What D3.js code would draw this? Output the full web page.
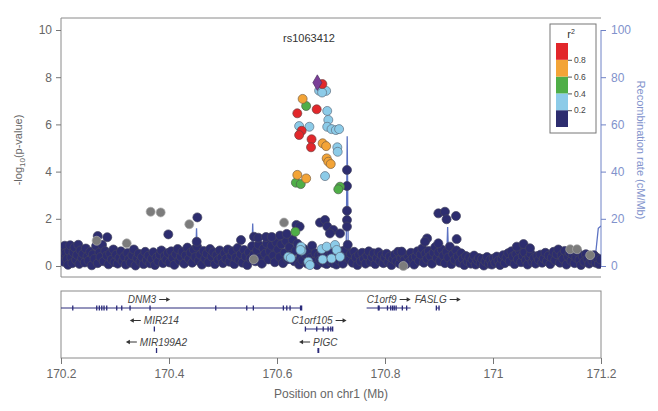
<!DOCTYPE html>
<html>
<head>
<meta charset="utf-8">
<script src="https://cdn.jsdelivr.net/npm/d3@7"></script>
<style>
body { margin: 0; background: #fff; }
svg { font-family: "Liberation Sans", Arial, sans-serif; }
</style>
</head>
<body>
<div id="chart"></div>
<script>
// --- data: [position Mb, -log10 p] ---
var indexSnp = [[170.6747, 7.77]];
var snpRed = [[170.684,7.71],[170.6376,6.47],[170.6735,6.64],[170.6457,5.73],[170.641,5.55],[170.664,5.37],[170.663,5.03]];
var snpOrange = [[170.6475,7.08],[170.6845,5.20],[170.691,5.08],[170.692,4.56],[170.695,4.42],[170.6995,4.32],[170.6376,3.86],[170.654,3.71]];
var snpGreen = [[170.654,6.78],[170.635,3.53],[170.644,3.47],[170.7167,3.36],[170.7135,3.25],[170.634,1.45]];
var snpLightBlue = [[170.678,7.43],[170.691,7.42],[170.6835,7.35],[170.693,6.57],[170.695,6.19],[170.641,5.93],[170.660,5.90],
  [170.693,5.90],[170.701,5.80],[170.709,5.76],[170.715,5.80],[170.7117,5.03],[170.7124,4.84],[170.689,3.81],
  [170.6445,0.82],[170.6457,0.65],[170.6209,0.39],[170.658,0.18],[170.661,0.04],[170.6828,0.72],[170.692,0.82],
  [170.7074,0.89],[170.7105,0.68],[170.6846,0.28],[170.701,0.32],[170.7167,0.39],[170.6255,0.34],[170.6435,0.68]];
var snpGray = [[170.366,2.30],[170.3846,2.27],[170.4376,1.77],[170.613,1.84],[170.266,1.07],[170.3217,0.96],
  [170.557,0.28],[171.143,0.71],[171.1556,0.71],[171.180,0.46],[170.834,0.0]];
var snpNavyHigh = [[170.7296,4.07],[170.7296,3.39],[170.7296,2.34],[170.7296,1.95],[170.7296,1.67],[170.636,1.74],[170.642,1.67],
  [170.4525,2.06],[170.8988,2.23],[170.911,2.30],[170.914,1.98],[170.9315,2.12],[170.878,1.17],[170.874,1.03],[170.8988,0.96],
  [170.9327,1.14],[171.044,0.82],[171.0565,0.93],[171.0685,0.75],[170.8309,0.61],[170.6796,1.84],[170.6889,1.95],[170.6932,1.67],
  [170.7043,1.53],[170.7167,1.38],[170.698,1.38],[170.268,1.27],[170.2857,1.22],[170.3987,1.34],[170.4513,1.03],[170.5333,1.10],
  [170.5574,1.24],[170.5654,1.20],[170.5796,1.23],[170.5902,1.23],[170.6056,1.29],[170.618,1.36]];
var snpNavy = [
  [170.201,0.42],[170.203,0.71],[170.205,0.18],[170.207,0.86],[170.209,0.55],[170.211,0.30],[170.213,0.05],[170.215,0.64],[170.217,0.88],[170.219,0.37],
  [170.221,0.12],[170.223,0.58],[170.225,0.79],[170.228,0.26],[170.230,0.47],[170.232,0.90],[170.234,0.09],[170.236,0.66],[170.239,0.33],[170.241,0.52],
  [170.244,0.15],[170.246,0.74],[170.249,0.41],[170.251,0.22],[170.254,0.60],[170.257,0.03],[170.259,0.49],[170.262,0.30],[170.265,0.85],[170.268,0.12],
  [170.271,0.57],[170.273,0.38],[170.276,0.90],[170.279,0.20],[170.282,0.63],[170.285,0.44],[170.288,0.07],[170.291,0.53],[170.294,0.27],[170.297,0.70],
  [170.299,0.16],[170.302,0.48],[170.305,0.10],[170.308,0.35],[170.311,0.62],[170.314,0.21],[170.317,0.40],[170.320,0.06],[170.323,0.55],[170.326,0.28],
  [170.329,0.14],[170.332,0.45],[170.335,0.70],[170.338,0.02],[170.341,0.33],[170.344,0.52],[170.347,0.18],[170.350,0.38],[170.353,0.08],[170.356,0.60],
  [170.359,0.25],[170.362,0.44],[170.365,0.11],[170.368,0.30],[170.371,0.58],[170.374,0.04],[170.377,0.36],[170.380,0.19],[170.383,0.48],[170.386,0.66],
  [170.389,0.12],[170.392,0.42],[170.395,0.27],[170.398,0.55],[170.401,0.15],[170.404,0.62],[170.407,0.34],[170.410,0.05],[170.413,0.50],[170.416,0.72],
  [170.419,0.24],[170.422,0.40],[170.425,0.60],[170.428,0.10],[170.431,0.45],[170.434,0.78],[170.437,0.30],[170.440,0.56],[170.443,0.14],[170.446,0.68],
  [170.449,0.38],[170.452,0.82],[170.455,0.22],[170.458,0.48],[170.461,0.06],[170.464,0.64],[170.467,0.32],[170.470,0.52],[170.473,0.16],[170.476,0.72],
  [170.479,0.40],[170.482,0.58],[170.485,0.08],[170.488,0.46],[170.491,0.26],[170.494,0.66],[170.497,0.35],[170.500,0.12],[170.503,0.54],[170.506,0.30],
  [170.509,0.70],[170.512,0.18],[170.515,0.44],[170.518,0.62],[170.521,0.08],[170.524,0.36],[170.527,0.76],[170.530,0.26],[170.533,0.50],[170.536,0.14],
  [170.539,0.68],[170.542,0.40],[170.545,0.04],[170.548,0.58],[170.551,0.32],[170.554,0.84],[170.557,0.48],[170.560,0.20],[170.563,0.66],[170.566,0.90],
  [170.569,0.36],[170.572,0.10],[170.575,0.74],[170.578,0.52],[170.581,0.96],[170.584,0.28],[170.587,0.62],[170.590,0.86],[170.593,0.44],[170.596,0.16],
  [170.599,1.00],[170.602,0.70],[170.605,0.38],[170.608,0.92],[170.611,0.12],[170.614,0.56],[170.617,1.05],[170.620,0.30],[170.623,0.80],[170.626,0.48],
  [170.629,1.12],[170.632,0.20],[170.635,0.66],[170.638,0.94],[170.641,0.06],[170.644,0.40],[170.647,0.24],[170.650,0.72],[170.653,0.50],[170.656,0.10],
  [170.659,0.60],[170.662,0.34],[170.665,0.86],[170.668,0.18],[170.671,0.54],[170.674,0.04],[170.677,0.44],[170.680,0.26],[170.683,0.58],[170.686,0.14],
  [170.689,0.50],[170.692,0.08],[170.695,0.38],[170.698,0.20],[170.701,0.55],[170.704,0.12],[170.707,0.30],[170.710,0.06],[170.713,0.46],[170.716,0.22],
  [170.719,0.62],[170.722,0.10],[170.725,0.40],[170.728,0.70],[170.731,0.90],[170.734,0.28],[170.737,0.52],[170.740,0.14],[170.743,0.60],[170.746,0.36],
  [170.749,0.04],[170.752,0.48],[170.755,0.20],[170.758,0.56],[170.761,0.30],[170.764,0.10],[170.767,0.44],[170.770,0.62],[170.773,0.18],[170.776,0.38],
  [170.779,0.54],[170.782,0.08],[170.785,0.34],[170.788,0.58],[170.791,0.22],[170.794,0.46],[170.797,0.12],[170.800,0.36],[170.803,0.52],[170.806,0.16],
  [170.809,0.40],[170.812,0.04],[170.815,0.30],[170.818,0.48],[170.821,0.20],[170.824,0.60],[170.827,0.10],[170.830,0.34],[170.833,0.52],[170.836,0.26],
  [170.839,0.08],[170.842,0.44],[170.845,0.18],[170.848,0.56],[170.851,0.32],[170.854,0.06],[170.857,0.40],[170.860,0.62],[170.863,0.22],[170.866,0.48],
  [170.869,0.74],[170.872,0.14],[170.875,0.52],[170.878,0.30],[170.881,0.64],[170.884,0.42],[170.887,0.10],[170.890,0.56],[170.893,0.80],[170.896,0.34],
  [170.899,0.58],[170.902,0.20],[170.905,0.70],[170.908,0.44],[170.911,0.12],[170.914,0.60],[170.917,0.36],[170.920,0.82],[170.923,0.08],[170.926,0.50],
  [170.929,0.26],[170.932,0.66],[170.935,0.40],[170.938,0.14],[170.941,0.54],[170.944,0.30],[170.947,0.04],[170.950,0.42],[170.953,0.20],[170.956,0.36],
  [170.959,0.10],[170.962,0.28],[170.965,0.44],[170.968,0.06],[170.971,0.24],[170.974,0.34],[170.977,0.12],[170.980,0.30],[170.983,0.02],[170.986,0.20],
  [170.989,0.38],[170.992,0.10],[170.995,0.26],[170.998,0.06],[171.001,0.32],[171.004,0.14],[171.007,0.40],[171.010,0.22],[171.013,0.04],[171.016,0.30],
  [171.019,0.46],[171.022,0.12],[171.025,0.36],[171.028,0.54],[171.031,0.20],[171.034,0.62],[171.037,0.40],[171.040,0.08],[171.043,0.50],[171.046,0.28],
  [171.049,0.66],[171.052,0.16],[171.055,0.44],[171.058,0.58],[171.061,0.24],[171.064,0.06],[171.067,0.38],[171.070,0.52],[171.073,0.18],[171.076,0.34],
  [171.079,0.10],[171.082,0.42],[171.085,0.26],[171.088,0.48],[171.091,0.14],[171.094,0.32],[171.097,0.56],[171.100,0.20],[171.103,0.44],[171.106,0.08],
  [171.109,0.36],[171.112,0.60],[171.115,0.24],[171.118,0.50],[171.121,0.70],[171.124,0.14],[171.127,0.46],[171.130,0.30],[171.133,0.64],[171.136,0.06],
  [171.139,0.40],[171.142,0.56],[171.145,0.22],[171.148,0.48],[171.151,0.12],[171.154,0.36],[171.157,0.58],[171.160,0.26],[171.163,0.04],[171.166,0.42],
  [171.169,0.18],[171.172,0.50],[171.175,0.30],[171.178,0.10],[171.181,0.40],[171.184,0.22],[171.187,0.46],[171.190,0.14],[171.193,0.34],[171.196,0.08],
  [171.199,0.28]
];

// recombination rate (cM/Mb)
var recPos  = [170.20,170.25,170.30,170.37,170.378,170.380,170.382,170.42,170.449,170.451,170.453,170.50,170.553,170.555,170.557,
               170.60,170.65,170.70,170.722,170.728,170.730,170.732,170.74,170.80,170.85,170.90,170.914,170.916,170.918,170.95,
               171.00,171.05,171.10,171.15,171.185,171.19,171.195,171.20];
var recRate = [0.5,0.8,1.0,1.2,1.5,8,1.2,0.8,1.0,16,1.2,0.9,1.2,18,1.5,
               1.0,1.2,1.0,2,3,55,4,1.5,1.0,0.8,1.0,1.5,16.5,1.5,0.8,
               1.0,0.7,0.9,0.8,1.0,5,16,17];

// genes
var geneNames  = ["DNM3","MIR214","MIR199A2","C1orf105","PIGC","C1orf9","FASLG"];
var geneStart  = [170.080,170.3722,170.3762,170.6519,170.6755,170.766,170.8944];
var geneEnd    = [170.646,170.3734,170.3774,170.7037,170.6775,170.8475,170.9006];
var geneStrand = ["+","-","-","+","-","+","+"];
var geneRow    = [0,1,2,1,2,0,0];
var geneExons  = [
  [170.2217,170.2661,170.2709,170.2754,170.2796,170.2846,170.3031,170.3124,170.3278,170.3648,170.4865,170.5439,170.5561,170.6117,170.6180,170.6241,170.6435,170.6455],
  [170.3728],[170.3768],
  [170.6525,170.6735,170.6855,170.6945,170.6995,170.7030],
  [170.6760,170.6770],
  [170.7875,170.7890,170.8045,170.8105,170.8140,170.8170,170.8205,170.8320,170.8400],
  [170.8950,170.9000]
];

var xTicks = [170.2,170.4,170.6,170.8,171,171.2];
var yTicks = [0,2,4,6,8,10];
var recTicks = [0,20,40,60,80,100];
var r2Breaks = [0,0.2,0.4,0.6,0.8,1.0];
var r2Colors = ["#2d2d6f","#8ccbe8","#4fae47","#f3a437","#e2272b"];

var W = 658, H = 411;
var svg = d3.select("#chart").append("svg").attr("width", W).attr("height", H);

var x = d3.scaleLinear().domain([170.2,171.2]).range([61,601]);
var y = d3.scaleLinear().domain([0,10]).range([266,30]);
var yR = d3.scaleLinear().domain([0,100]).range([266,30]);

var grey = "#777", labGrey = "#666", recCol = "#6f82c6";

svg.append("clipPath").attr("id","plotClip")
  .append("rect").attr("x",61).attr("y",18).attr("width",540).attr("height",259);

// frame of the top panel
svg.append("path").attr("d","M601,18H61V277H601").attr("fill","none").attr("stroke","#8a8a8a").attr("stroke-width",1);

// left axis
var yAxis = svg.append("g").attr("transform","translate(61,0)")
  .call(d3.axisLeft(y).tickValues(yTicks).tickSize(5).tickPadding(4));
yAxis.select(".domain").remove();
yAxis.selectAll("line").attr("stroke",grey);
yAxis.selectAll("text").attr("fill",labGrey).style("font-size","12px");

// right axis
var rAxis = svg.append("g").attr("transform","translate(601,0)")
  .call(d3.axisRight(yR).tickValues(recTicks).tickSize(5).tickPadding(5));
rAxis.select(".domain").attr("stroke",recCol).attr("d","M0,30V266");
rAxis.selectAll("line").attr("stroke",recCol);
rAxis.selectAll("text").attr("fill","#8192cc").style("font-size","12px");

svg.append("text").attr("transform","translate(22,150) rotate(-90)")
  .attr("text-anchor","middle").attr("fill",labGrey).style("font-size","11px")
  .html('-log<tspan dy="3" font-size="8">10</tspan><tspan dy="-3">(p-value)</tspan>');
svg.append("text").attr("transform","translate(637,150) rotate(90)")
  .attr("text-anchor","middle").attr("fill","#8192cc").style("font-size","11px")
  .text("Recombination rate (cM/Mb)");

var plot = svg.append("g").attr("clip-path","url(#plotClip)");

// recombination line
var line = d3.line().x(function(d){ return x(d[0]); }).y(function(d){ return yR(d[1]); });
plot.append("path").datum(recPos.map(function(p,i){ return [p, recRate[i]]; }))
  .attr("d", line).attr("fill","none").attr("stroke","#5c72c2").attr("stroke-width",1.3);

function dots(data, fill, stroke) {
  plot.append("g").selectAll("circle").data(data).enter().append("circle")
    .attr("cx", function(d){ return x(d[0]); })
    .attr("cy", function(d){ return y(d[1]); })
    .attr("r", 4.5)
    .attr("fill", fill)
    .attr("stroke", stroke)
    .attr("stroke-width", 0.7);
}
dots(snpNavy, r2Colors[0], "#44445e");
dots(snpNavyHigh, r2Colors[0], "#44445e");
dots(snpGray, "#7c7c7c", "#a9a9a9");
dots(snpLightBlue, r2Colors[1], "#5f6f7f");
dots(snpGreen, r2Colors[2], "#4f5f4f");
dots(snpOrange, r2Colors[3], "#7a6040");
dots(snpRed, r2Colors[4], "#704040");

plot.selectAll(".idx").data(indexSnp).enter().append("path")
  .attr("d", d3.symbol().type(d3.symbolDiamond).size(70))
  .attr("transform", function(d){ return "translate(" + x(d[0]) + "," + y(d[1]) + ")"; })
  .attr("fill","#7b3f98").attr("stroke","#4a3060").attr("stroke-width",0.7);

svg.append("text").attr("x",309).attr("y",42).attr("text-anchor","middle")
  .style("font-size","11px").attr("fill","#333").text("rs1063412");

// legend
var lg = svg.append("g");
lg.append("rect").attr("x",550).attr("y",24).attr("width",46).attr("height",109)
  .attr("fill","#fff").attr("stroke","#777");
var ly = d3.scaleLinear().domain([0,1]).range([127,43]);
lg.selectAll(".seg").data(r2Colors).enter().append("rect")
  .attr("x",556).attr("width",12)
  .attr("y", function(d,i){ return ly(r2Breaks[i+1]); })
  .attr("height", function(d,i){ return ly(r2Breaks[i]) - ly(r2Breaks[i+1]); })
  .attr("fill", function(d){ return d; });
var lAxis = lg.append("g").attr("transform","translate(568,0)")
  .call(d3.axisRight(ly).tickValues([0.2,0.4,0.6,0.8]).tickSize(4).tickPadding(2));
lAxis.select(".domain").remove();
lAxis.selectAll("line").attr("stroke","#555");
lAxis.selectAll("text").attr("fill","#444").style("font-size","8.5px");
lg.append("text").attr("x",571).attr("y",38).attr("text-anchor","middle").style("font-size","11px").attr("fill","#333")
  .html('r<tspan dy="-4" font-size="7">2</tspan>');

// gene panel
svg.append("clipPath").attr("id","geneClip")
  .append("rect").attr("x",61).attr("y",291).attr("width",540).attr("height",67);
svg.append("rect").attr("x",61).attr("y",291).attr("width",540).attr("height",67)
  .attr("fill","none").attr("stroke","#8a8a8a");
var rowY = [308, 329, 350.5];
var gp = svg.append("g").attr("clip-path","url(#geneClip)");
var geneCol = "#2a2a7a";
function arrow(g, x0, x1, yy) {
  var dir = x1 > x0 ? 1 : -1;
  g.append("line").attr("x1", x0).attr("x2", x1 - dir * 2).attr("y1", yy).attr("y2", yy)
    .attr("stroke", "#333").attr("stroke-width", 1);
  g.append("path").attr("d", "M" + x1 + "," + yy + "L" + (x1 - dir * 4) + "," + (yy - 2.2) + "L" + (x1 - dir * 4) + "," + (yy + 2.2) + "Z")
    .attr("fill", "#333");
}
geneNames.forEach(function(name, i) {
  var gy = rowY[geneRow[i]];
  gp.append("line").attr("x1", x(geneStart[i])).attr("x2", x(geneEnd[i]))
    .attr("y1", gy).attr("y2", gy).attr("stroke", geneCol).attr("stroke-width", 1);
  gp.selectAll(null).data(geneExons[i]).enter().append("rect")
    .attr("x", function(d){ return x(d) - 0.6; }).attr("width", 1.3)
    .attr("y", gy - 2.5).attr("height", 5).attr("fill", geneCol);
  var mid = x((geneStart[i] + geneEnd[i]) / 2);
  var t = gp.append("text").attr("y", gy - 5).style("font-size","10px").style("font-style","italic")
    .attr("fill","#444").text(name);
  var w = t.node().getComputedTextLength();
  var total = w + 14;
  var sx = mid - total / 2;
  var ay = gy - 8.5;
  if (geneStrand[i] === "+") {
    t.attr("x", sx);
    arrow(gp, sx + w + 3, sx + total, ay);
  } else {
    t.attr("x", sx + 14);
    arrow(gp, sx + 11, sx, ay);
  }
});

// x axis under gene panel
var xAxis = svg.append("g").attr("transform","translate(0,358)")
  .call(d3.axisBottom(x).tickValues(xTicks).tickSize(6).tickPadding(5).tickFormat(d3.format("")));
xAxis.select(".domain").remove();
xAxis.selectAll("line").attr("stroke",grey);
xAxis.selectAll("text").attr("fill",labGrey).style("font-size","12px");
svg.append("text").attr("x",331).attr("y",398).attr("text-anchor","middle")
  .attr("fill",labGrey).style("font-size","12px").text("Position on chr1 (Mb)");
</script>
</body>
</html>
